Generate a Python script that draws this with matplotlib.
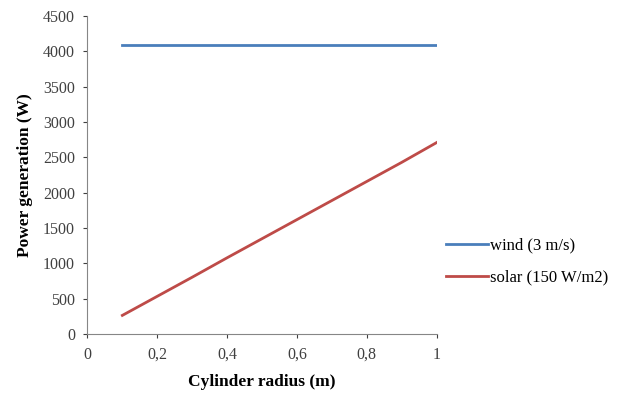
import matplotlib
matplotlib.use("Agg")
import matplotlib.pyplot as plt

# data
radius = [0.1, 0.2, 0.3, 0.4, 0.5, 0.6, 0.7, 0.8, 0.9, 1.0]
wind = [4090, 4090, 4090, 4090, 4090, 4090, 4090, 4090, 4090, 4090]
solar = [265, 535, 805, 1080, 1350, 1620, 1890, 2160, 2430, 2710]
x_ticks = [0, 0.2, 0.4, 0.6, 0.8, 1.0]
x_labels = ["0", "0,2", "0,4", "0,6", "0,8", "1"]
y_ticks = [0, 500, 1000, 1500, 2000, 2500, 3000, 3500, 4000, 4500]

plt.rcParams["font.family"] = ["Liberation Serif", "DejaVu Serif"]

fig = plt.figure(figsize=(6.29, 3.94), dpi=100)
ax = fig.add_axes([0.139, 0.152, 0.555, 0.807])

ax.plot(radius, wind, color="#4a7ebb", lw=2, label="wind (3 m/s)")
ax.plot(radius, solar, color="#be4b48", lw=2, label="solar (150 W/m2)")

ax.set_xlim(0, 1)
ax.set_ylim(0, 4500)
ax.set_xticks(x_ticks)
ax.set_xticklabels(x_labels)
ax.set_yticks(y_ticks)
ax.tick_params(labelsize=11.5, colors="#404040", length=3, width=0.8)
ax.tick_params(axis="x", pad=6)
ax.tick_params(axis="y", pad=6)
for s in ("top", "right"):
    ax.spines[s].set_visible(False)
for s in ("left", "bottom"):
    ax.spines[s].set_color("#868686")

ax.set_xlabel("Cylinder radius (m)", fontsize=12.5, fontweight="bold", labelpad=8)
ax.set_ylabel("Power generation (W)", fontsize=12.5, fontweight="bold", labelpad=7)

ax.legend(loc="center left", bbox_to_anchor=(0.985, 0.228), frameon=False,
          fontsize=12, handlelength=2.5, handletextpad=0.15, labelspacing=0.95)

fig.savefig("out.png", dpi=100)
